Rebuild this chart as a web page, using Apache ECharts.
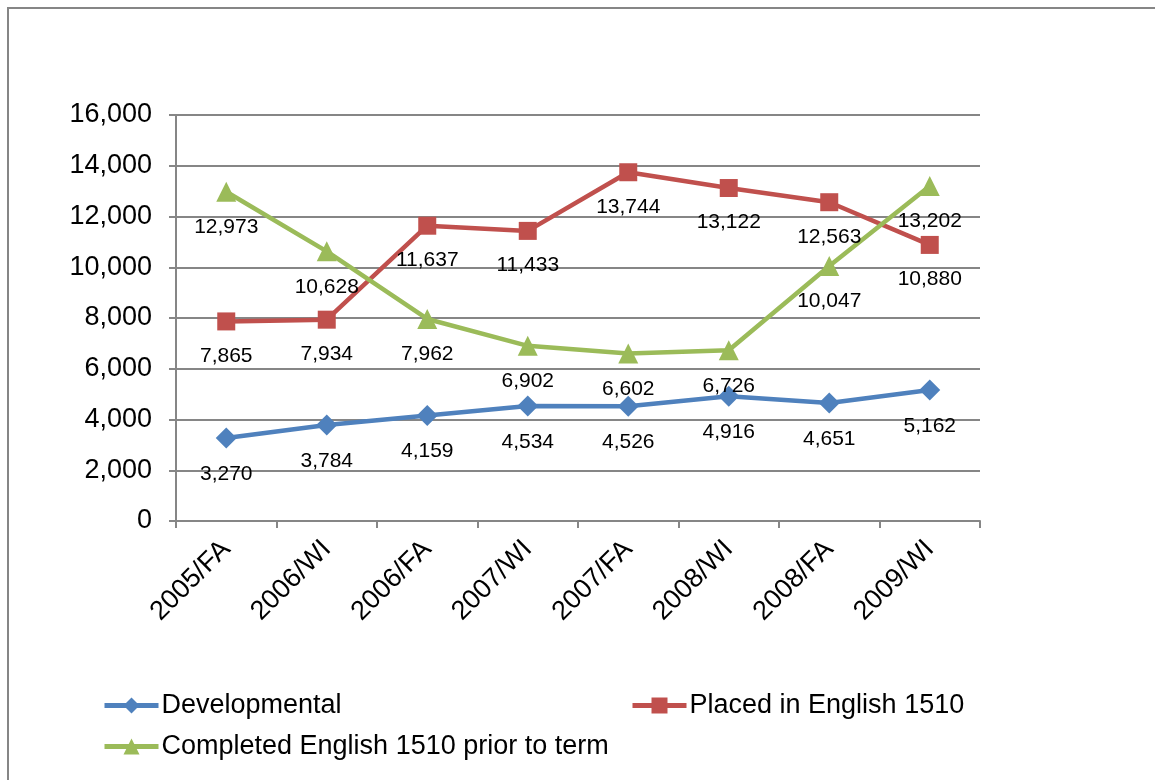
<!DOCTYPE html>
<html><head><meta charset="utf-8">
<script src="https://cdn.jsdelivr.net/npm/echarts@6/dist/echarts.min.js"></script>
<style>html,body{margin:0;padding:0;background:#fff}#c{width:1155px;height:780px}</style>
</head><body><div id="c"></div>
<script>
const categories = ['2005/FA','2006/WI','2006/FA','2007/WI','2007/FA','2008/WI','2008/FA','2009/WI'];
const developmental = [3270,3784,4159,4534,4526,4916,4651,5162];
const placed = [7865,7934,11637,11433,13744,13122,12563,10880];
const completed = [12973,10628,7962,6902,6602,6726,10047,13202];
const seriesNames = ['Developmental','Placed in English 1510','Completed English 1510 prior to term'];

const FONT = 'Liberation Sans, Arial, sans-serif';
const fmt = v => v.toLocaleString('en-US');
const chart = echarts.init(document.getElementById('c'), null, {renderer:'canvas'});
function mk(name, data, color, symbol, size){
  return {
    name, type:'line', data, symbol, symbolSize:size,
    lineStyle:{color, width:4.5}, itemStyle:{color},
    label:{show:true, position:'bottom', distance:15, color:'#000', fontFamily:FONT, fontSize:21,
      formatter:p=>fmt(p.value)},
    z: 3
  };
}
const legText = {color:'#000', fontFamily:FONT, fontSize:27, padding:[0,0,0,-2]};
chart.setOption({
  animation:false,
  graphic:[{type:'rect', shape:{x:8,y:8,width:1300,height:900}, style:{fill:'none', stroke:'#868686', lineWidth:2}, silent:true}],
  grid:{left:176, right:175, top:115, bottom:259},
  xAxis:{type:'category', data:categories, boundaryGap:true,
    axisLine:{lineStyle:{color:'#868686', width:2}},
    axisTick:{show:true, alignWithLabel:false, length:7, lineStyle:{color:'#868686', width:2}},
    axisLabel:{rotate:45, margin:24, color:'#000', fontFamily:FONT, fontSize:27, interval:0}},
  yAxis:{type:'value', min:0, max:16000, interval:2000,
    axisLine:{show:true, lineStyle:{color:'#868686', width:2}},
    axisTick:{show:true, length:7, lineStyle:{color:'#868686', width:2}},
    splitLine:{lineStyle:{color:'#868686', width:2}},
    axisLabel:{margin:24, color:'#000', fontFamily:FONT, fontSize:27, formatter:v=>fmt(v)}},
  legend:[
    {data:[seriesNames[0], seriesNames[2]], orient:'vertical', left:97, top:687, itemWidth:54, itemHeight:20, itemGap:14,
      lineStyle:{width:5}, textStyle:legText},
    {data:[seriesNames[1]], orient:'vertical', left:625, top:687, itemWidth:54, itemHeight:20,
      lineStyle:{width:5}, textStyle:legText}
  ],
  series:[
    mk(seriesNames[0], developmental, '#4F81BD', 'diamond', 21),
    mk(seriesNames[1], placed, '#C0504D', 'rect', 18),
    mk(seriesNames[2], completed, '#9BBB59', 'triangle', 20)
  ]
});
</script></body></html>
